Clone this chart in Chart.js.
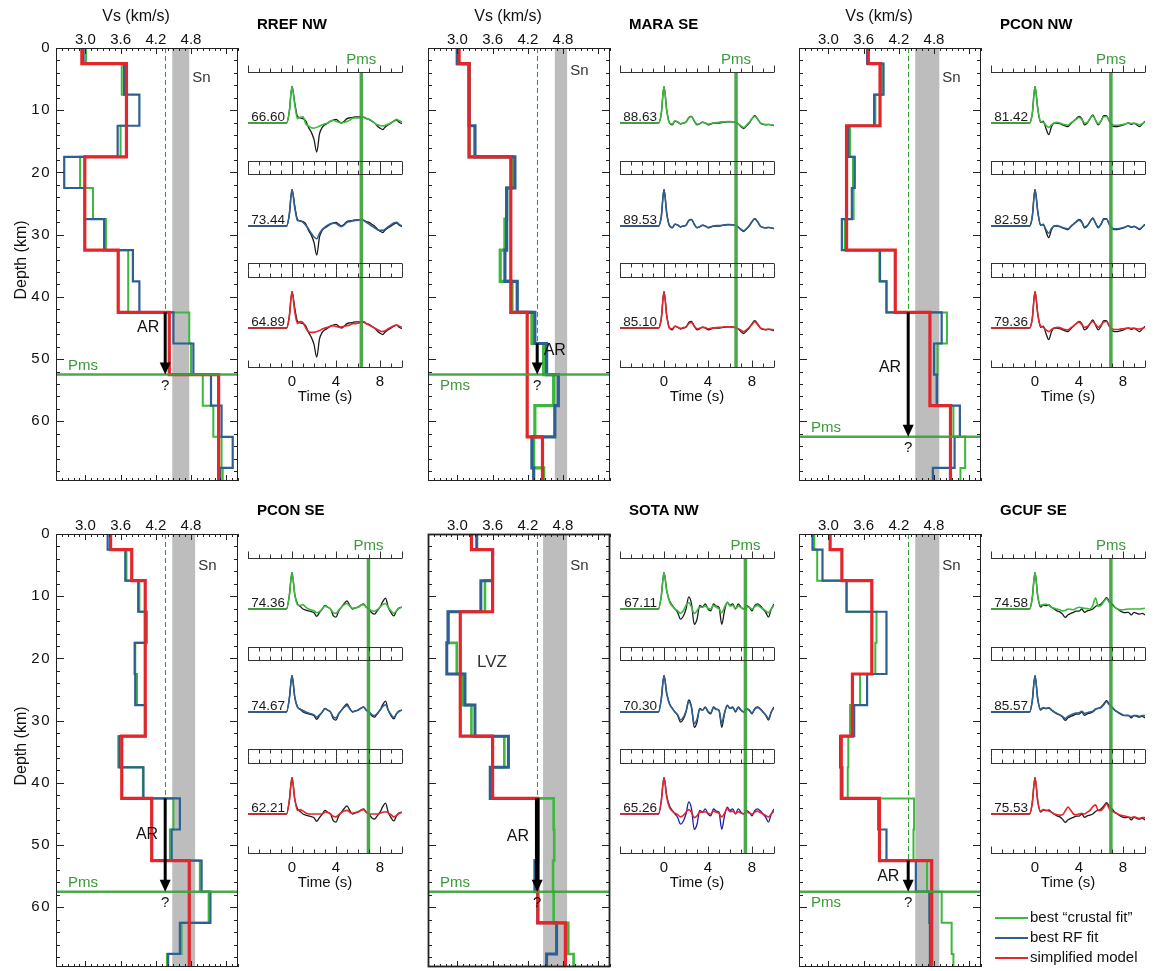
<!DOCTYPE html>
<html>
<head>
<meta charset="utf-8">
<script src="https://cdn.jsdelivr.net/npm/chart.js@4.4.1/dist/chart.umd.min.js"></script>
<style>
  body { margin: 0; background: #fff; width: 1162px; height: 971px; position: relative; overflow: hidden;
         font-family: "Liberation Sans", Arial, sans-serif; }
  canvas { position: absolute; }
  .leg { position: absolute; left: 995px; font-size: 15px; color: #111; line-height: 20px; white-space: nowrap; }
  .leg span { display: inline-block; width: 33px; vertical-align: middle; margin-right: 2px; }
</style>
</head>
<body>
<script>
/* ====== VELOCITY MODELS + RECEIVER FUNCTIONS ====== */

const STATIONS = ['RREF NW', 'MARA SE', 'PCON NW', 'PCON SE', 'SOTA NW', 'GCUF SE']

// layer tops (km), 5 km layers offset by 2.5 km
const LAYER_TOPS = [0, 2.5, 7.5, 12.5, 17.5, 22.5, 27.5, 32.5, 37.5, 42.5, 47.5, 52.5, 57.5, 62.5, 67.5]
const DEPTH_MAX = 69.6
const VS_MIN = 2.5, VS_MAX = 5.6
const VS_TICKS = [3.0, 3.6, 4.2, 4.8]
const DEPTH_TICKS = [0, 10, 20, 30, 40, 50, 60]
const TIME_TICKS = [0, 4, 8]

// Vs (km/s) per layer: best crustal fit / best RF fit / simplified model
const rrefCrust  = [3.01, 3.62, 3.70, 3.60, 2.91, 3.13, 3.35, 3.73, 3.73, 4.77, 4.80, 5.00, 5.18, 5.32, 5.34]
const rrefRF     = [2.97, 3.66, 3.92, 3.55, 2.64, 2.99, 3.32, 3.81, 3.92, 4.50, 4.84, 5.14, 5.32, 5.51, 5.30]
const rrefSimple = [2.94, 3.70, 3.70, 3.70, 2.99, 2.99, 2.99, 3.56, 3.56, 4.43, 4.43, 5.27, 5.27, 5.27, 5.27]

const maraCrust  = [3.00, 3.20, 3.20, 3.20, 3.93, 3.84, 3.81, 3.73, 3.93, 4.27, 4.47, 4.64, 4.32, 4.30, 4.47]
const maraRF     = [3.00, 3.20, 3.20, 3.30, 3.98, 3.84, 3.84, 3.81, 4.02, 4.32, 4.52, 4.72, 4.66, 4.27, 4.30]
const maraSimple = [3.03, 3.20, 3.20, 3.20, 3.91, 3.91, 3.91, 3.91, 3.91, 4.19, 4.19, 4.19, 4.19, 4.45, 4.45]

const pconNwCrust  = [3.68, 3.91, 3.80, 3.37, 3.42, 3.43, 3.28, 3.87, 3.99, 5.02, 4.86, 4.84, 5.13, 5.33, 5.25]
const pconNwRF     = [3.66, 3.94, 3.78, 3.34, 3.45, 3.40, 3.23, 3.88, 3.99, 4.93, 4.80, 4.85, 5.24, 5.15, 4.78]
const pconNwSimple = [3.68, 3.88, 3.88, 3.31, 3.31, 3.31, 3.31, 4.14, 4.14, 4.73, 4.73, 4.73, 5.08, 5.08, 5.08]

const pconSeCrust  = [3.43, 3.70, 3.92, 4.05, 3.85, 3.88, 4.02, 3.56, 3.98, 4.50, 4.44, 4.95, 5.10, 4.64, 4.39]
const pconSeRF     = [3.38, 3.68, 3.90, 4.02, 3.84, 3.85, 4.02, 3.58, 3.99, 4.61, 4.47, 4.98, 5.13, 4.61, 4.41]
const pconSeSimple = [3.43, 3.79, 4.02, 4.02, 4.02, 4.02, 4.02, 3.62, 3.62, 4.13, 4.13, 4.77, 4.77, 4.77, 4.77]

const sotaCrust  = [3.24, 3.60, 3.47, 2.85, 2.99, 3.10, 3.24, 3.80, 3.59, 4.64, 4.65, 4.63, 4.64, 4.89, 4.98]
const sotaRF     = [3.33, 3.60, 3.40, 2.84, 2.82, 3.13, 3.30, 3.87, 3.56, 4.37, 4.37, 4.32, 4.37, 4.69, 4.52]
const sotaSimple = [3.24, 3.60, 3.60, 3.05, 3.05, 3.05, 3.05, 3.60, 3.60, 4.37, 4.37, 4.37, 4.37, 4.84, 4.84]

const gcufCrust  = [2.76, 2.81, 3.31, 3.82, 3.80, 3.54, 3.37, 3.34, 3.33, 4.46, 4.45, 4.68, 4.93, 5.10, 5.13]
const gcufRF     = [2.73, 2.90, 3.31, 3.99, 3.99, 3.66, 3.44, 3.20, 3.24, 3.85, 3.99, 4.49, 4.72, 4.73, 4.73]
const gcufSimple = [3.03, 3.23, 3.74, 3.74, 3.74, 3.41, 3.41, 3.22, 3.22, 3.87, 3.87, 4.76, 4.76, 4.76, 4.76]

const PMS_DEPTH = [52.5, 52.5, 62.5, 57.5, 57.5, 57.5]
const AR_TOP    = [42.5, 47.5, 42.5, 42.5, 42.5, 52.5]
const AR_VS     = 4.36
const SN_BAND   = [[4.48, 4.77], [4.66, 4.87], [4.48, 4.89], [4.48, 4.87], [4.46, 4.87], [4.48, 4.89]]

// receiver functions (s) and amplitudes (normalised to direct P)
const TIME = [-4, -0.5, -0.25, 0, 0.25, 0.5, 0.75, 1, 1.25, 1.5, 1.75, 2, 2.25, 2.5, 2.75, 3, 3.25, 3.5, 3.75,
  4, 4.25, 4.5, 4.75, 5, 5.25, 5.5, 5.75, 6, 6.25, 6.5, 6.75, 7, 7.25, 7.5, 7.75, 8, 8.25, 8.5, 8.75, 9, 9.25, 9.5, 9.75, 10]

const rrefObs = [0, 0, 0.3,
  1.0, 0.55, 0.18, 0.14, 0.12, 0.06, -0.12, -0.25, -0.45, -0.8, -0.3, -0.12, -0.05, 0.0, 0.05, 0.08,
  0.1, 0.05, 0.0, 0.05, 0.12, 0.14, 0.15, 0.17, 0.17, 0.17, 0.16, 0.12, 0.1, 0.05, 0.0, -0.08,
  -0.14, -0.18, -0.1, -0.05, 0.0, 0.05, 0.08, 0.02, -0.02]
const rrefSyn1 = [0, 0, 0.3,
  1.0, 0.5, 0.12, 0.16, 0.17, -0.02, -0.08, -0.13, -0.14, -0.12, -0.08, -0.05, -0.02, 0.0, 0.05, 0.07,
  0.05, 0.02, 0.0, 0.02, 0.04, 0.08, 0.13, 0.14, 0.14, 0.15, 0.16, 0.13, 0.1, 0.06, 0.0, -0.05,
  -0.07, -0.08, -0.06, -0.03, 0.0, 0.05, 0.1, 0.06, 0.03]
const rrefSyn2 = [0, 0, 0.3,
  1.0, 0.5, 0.15, 0.14, 0.1, 0.02, -0.08, -0.2, -0.3, -0.35, -0.2, -0.1, -0.03, 0.02, 0.06, 0.08,
  0.07, 0.02, -0.02, 0.03, 0.1, 0.12, 0.14, 0.15, 0.16, 0.16, 0.15, 0.1, 0.05, 0.0, -0.05, -0.1,
  -0.12, -0.12, -0.08, -0.02, 0.03, 0.08, 0.1, 0.04, 0.0]
const rrefSyn3 = [0, 0, 0.3,
  1.0, 0.45, 0.12, 0.18, 0.15, 0.0, -0.1, -0.12, -0.12, -0.1, -0.07, -0.03, 0.0, 0.02, 0.05, 0.06,
  0.04, 0.02, 0.03, 0.05, 0.06, 0.08, 0.12, 0.12, 0.13, 0.16, 0.18, 0.12, 0.08, 0.04, 0.0, -0.04,
  -0.08, -0.1, -0.07, -0.02, 0.02, 0.06, 0.08, 0.05, 0.02]

const maraObs = [0, 0, 0.25,
  1.0, 0.35, 0.0, -0.05, 0.05, 0.02, -0.03, 0.0, 0.02, 0.15, 0.18, 0.05, -0.05, -0.02, 0.02, 0.0,
  -0.05, -0.03, 0.0, 0.0, 0.0, 0.01, 0.02, 0.03, 0.03, 0.03, 0.02, -0.03, -0.1, -0.15, -0.08, 0.0,
  0.12, 0.2, 0.12, 0.0, -0.04, -0.05, -0.04, -0.05, -0.07]
const maraSyn1 = [0, 0, 0.25,
  1.0, 0.33, 0.0, -0.03, 0.06, 0.03, -0.02, 0.0, 0.03, 0.14, 0.17, 0.06, -0.03, -0.02, 0.02, 0.01,
  -0.03, -0.02, 0.0, 0.01, 0.02, 0.03, 0.03, 0.04, 0.04, 0.03, 0.02, -0.02, -0.08, -0.12, -0.06, 0.02,
  0.12, 0.18, 0.11, 0.01, -0.03, -0.04, -0.04, -0.05, -0.06]
const maraSyn2 = [0, 0, 0.25,
  1.0, 0.34, 0.01, -0.04, 0.05, 0.03, -0.02, 0.0, 0.02, 0.15, 0.17, 0.05, -0.04, -0.02, 0.02, 0.0,
  -0.04, -0.02, 0.0, 0.01, 0.01, 0.02, 0.03, 0.04, 0.04, 0.03, 0.02, -0.03, -0.09, -0.13, -0.07, 0.01,
  0.12, 0.19, 0.12, 0.0, -0.04, -0.05, -0.04, -0.05, -0.07]
const maraSyn3 = [0, 0, 0.25,
  1.0, 0.32, 0.0, -0.02, 0.05, 0.02, -0.01, 0.01, 0.03, 0.12, 0.15, 0.05, -0.02, -0.01, 0.02, 0.01,
  -0.02, -0.01, 0.0, 0.01, 0.02, 0.02, 0.03, 0.03, 0.03, 0.02, 0.01, -0.02, -0.06, -0.1, -0.05, 0.02,
  0.1, 0.17, 0.1, 0.01, -0.03, -0.04, -0.03, -0.04, -0.05]

const pconNwObs = [0, 0, 0.25,
  1.0, 0.4, 0.02, 0.05, -0.15, -0.32, -0.1, 0.0, 0.0, -0.02, -0.05, -0.08, -0.1, -0.02, 0.05, 0.12,
  0.18, 0.12, -0.05, 0.0, 0.12, 0.22, 0.08, -0.05, 0.05, 0.2, 0.2, 0.05, -0.07, -0.1, -0.1, -0.08,
  -0.06, -0.02, 0.0, -0.04, -0.01, -0.05, -0.1, -0.03, 0.05]
const pconNwSyn1 = [0, 0, 0.25,
  1.0, 0.38, 0.05, 0.02, -0.06, -0.12, -0.05, 0.0, 0.02, 0.0, -0.03, -0.05, -0.06, 0.0, 0.05, 0.1,
  0.15, 0.1, 0.0, 0.02, 0.12, 0.2, 0.08, -0.02, 0.06, 0.17, 0.18, 0.06, -0.04, -0.06, -0.06, -0.05,
  -0.04, -0.02, 0.0, -0.02, 0.0, -0.02, -0.05, -0.02, 0.03]
const pconNwSyn2 = [0, 0, 0.25,
  1.0, 0.4, 0.04, 0.03, -0.1, -0.2, -0.07, 0.0, 0.01, -0.01, -0.04, -0.06, -0.08, -0.01, 0.05, 0.11,
  0.16, 0.1, -0.02, 0.01, 0.12, 0.21, 0.08, -0.03, 0.05, 0.18, 0.19, 0.05, -0.05, -0.08, -0.08, -0.06,
  -0.05, -0.02, 0.0, -0.03, -0.01, -0.04, -0.08, -0.03, 0.04]
const pconNwSyn3 = [0, 0, 0.25,
  1.0, 0.38, 0.06, 0.02, -0.05, -0.1, -0.04, 0.0, 0.02, 0.01, -0.02, -0.04, -0.05, 0.0, 0.06, 0.12,
  0.16, 0.1, 0.02, 0.04, 0.12, 0.18, 0.1, 0.02, 0.08, 0.16, 0.18, 0.06, -0.02, -0.04, -0.04, -0.03,
  -0.02, -0.01, 0.0, -0.01, 0.0, -0.02, -0.03, -0.01, 0.02]

const pconSeObs = [0, 0, 0.35,
  1.0, 0.4, 0.14, 0.07, 0.0, -0.03, -0.05, -0.07, -0.1, -0.2, -0.1, 0.0, 0.1, 0.05, 0.0, -0.18,
  -0.22, -0.05, 0.05, 0.15, 0.22, 0.1, 0.0, 0.03, 0.05, 0.1, 0.14, 0.05, 0.0, -0.1, -0.14, -0.05,
  0.05, 0.2, 0.3, 0.05, -0.1, -0.19, -0.05, 0.03, 0.05]
const pconSeSyn1 = [0, 0, 0.35,
  1.0, 0.4, 0.12, 0.1, 0.12, 0.05, 0.0, -0.03, -0.05, -0.1, -0.07, 0.0, 0.08, 0.05, 0.0, -0.1,
  -0.12, -0.03, 0.05, 0.12, 0.15, 0.08, 0.02, 0.03, 0.05, 0.1, 0.12, 0.05, 0.0, -0.05, -0.06, -0.02,
  0.05, 0.12, 0.15, 0.05, -0.05, -0.12, -0.05, 0.02, 0.05]
const pconSeSyn2 = [0, 0, 0.35,
  1.0, 0.42, 0.13, 0.08, 0.04, 0.0, -0.03, -0.05, -0.08, -0.14, -0.08, 0.0, 0.09, 0.05, 0.0, -0.13,
  -0.16, -0.04, 0.05, 0.13, 0.18, 0.09, 0.01, 0.03, 0.05, 0.1, 0.13, 0.05, 0.0, -0.07, -0.1, -0.04,
  0.05, 0.15, 0.2, 0.05, -0.07, -0.15, -0.05, 0.02, 0.05]
const pconSeSyn3 = [0, 0, 0.35,
  1.0, 0.42, 0.1, 0.12, 0.08, 0.03, 0.0, 0.0, 0.0, 0.0, 0.0, 0.0, 0.05, 0.04, 0.0, -0.06,
  -0.08, -0.02, 0.04, 0.08, 0.1, 0.05, 0.02, 0.04, 0.06, 0.1, 0.12, 0.05, 0.0, 0.0, 0.0, 0.0,
  0.02, 0.05, 0.06, 0.03, -0.02, -0.08, -0.04, 0.02, 0.04]

const sotaObs = [0, 0, 0.35,
  1.0, 0.5, 0.23, 0.1, 0.0, -0.1, -0.28, -0.2, 0.0, 0.33, 0.14, -0.42, -0.28, 0.1, 0.05, 0.14,
  0.0, -0.05, 0.14, 0.08, 0.05, -0.42, -0.05, 0.19, 0.1, 0.14, 0.0, 0.14, 0.05, 0.0, 0.09, 0.05,
  -0.05, 0.09, 0.14, 0.09, 0.0, -0.09, -0.22, 0.0, 0.14]
const sotaSyn1 = [0, 0, 0.35,
  1.0, 0.5, 0.2, 0.08, 0.0, -0.05, -0.12, -0.05, 0.1, 0.18, 0.05, -0.12, -0.05, 0.05, 0.05, 0.08,
  0.02, 0.0, 0.1, 0.05, 0.0, -0.1, 0.05, 0.18, 0.08, 0.1, 0.02, 0.08, 0.04, 0.0, 0.06, 0.04,
  0.0, 0.06, 0.1, 0.05, 0.0, -0.05, -0.1, 0.0, 0.1]
const sotaSyn2 = [0, 0, 0.35,
  1.0, 0.5, 0.22, 0.1, 0.0, -0.08, -0.22, -0.15, 0.02, 0.28, 0.12, -0.32, -0.2, 0.08, 0.05, 0.12,
  0.02, -0.03, 0.12, 0.07, 0.04, -0.3, -0.02, 0.17, 0.1, 0.12, 0.02, 0.12, 0.05, 0.0, 0.08, 0.05,
  -0.03, 0.08, 0.12, 0.08, 0.0, -0.08, -0.18, 0.0, 0.12]
const sotaSyn3 = [0, 0, 0.35,
  1.0, 0.45, 0.18, 0.08, 0.02, -0.02, -0.08, -0.04, 0.05, 0.12, 0.05, -0.1, -0.05, 0.05, 0.05, 0.06,
  0.02, 0.0, 0.08, 0.05, 0.02, -0.08, 0.02, 0.15, 0.06, 0.08, 0.02, 0.06, 0.03, 0.0, 0.05, 0.03,
  0.0, 0.05, 0.08, 0.04, 0.0, -0.04, -0.08, 0.0, 0.08]

const gcufObs = [0, 0, 0.3,
  1.0, 0.35, 0.05, 0.11, 0.09, 0.11, 0.05, 0.0, -0.05, -0.08, -0.14, -0.23, -0.16, -0.12, -0.09, -0.06,
  -0.06, 0.0, -0.09, -0.05, -0.03, 0.0, 0.07, 0.1, 0.14, 0.22, 0.31, 0.22, 0.14, 0.05, 0.0, -0.05,
  -0.09, -0.1, -0.09, -0.16, -0.09, -0.12, -0.14, -0.12, -0.16]
const gcufSyn1 = [0, 0, 0.3,
  1.0, 0.35, 0.1, 0.12, 0.13, 0.1, 0.05, 0.02, 0.0, -0.02, -0.05, -0.04, 0.0, -0.01, -0.02, 0.02,
  0.05, 0.03, 0.02, 0.01, 0.0, 0.1, 0.3, 0.08, 0.1, 0.2, 0.28, 0.18, 0.1, 0.05, 0.0, -0.02,
  -0.02, -0.01, 0.0, 0.0, 0.0, 0.0, 0.0, 0.01, 0.02]
const gcufSyn2 = [0, 0, 0.3,
  1.0, 0.35, 0.08, 0.12, 0.1, 0.12, 0.06, 0.0, -0.04, -0.08, -0.12, -0.18, -0.12, -0.08, -0.05, -0.03,
  -0.02, 0.02, -0.04, -0.02, 0.0, 0.02, 0.08, 0.1, 0.12, 0.2, 0.28, 0.2, 0.12, 0.05, 0.0, -0.04,
  -0.08, -0.09, -0.1, -0.12, -0.1, -0.1, -0.12, -0.1, -0.1]
const gcufSyn3 = [0, 0, 0.3,
  1.0, 0.35, 0.08, 0.12, 0.1, 0.08, 0.05, 0.0, -0.02, -0.03, -0.02, 0.08, 0.19, 0.1, 0.0, -0.02,
  0.0, 0.02, 0.0, 0.05, 0.1, 0.2, 0.25, 0.1, 0.1, 0.18, 0.28, 0.15, 0.08, 0.04, 0.0, -0.03,
  -0.05, -0.06, -0.08, -0.1, -0.08, -0.1, -0.12, -0.1, -0.1]

const PMS_TIME = [6.3, 6.55, 6.9, 6.95, 7.4, 6.9]
const FIT = [
  ['66.60', '73.44', '64.89'], ['88.63', '89.53', '85.10'], ['81.42', '82.59', '79.36'],
  ['74.36', '74.67', '62.21'], ['67.11', '70.30', '65.26'], ['74.58', '85.57', '75.53']
]

const VEL_MODELS = [
  [rrefCrust, rrefRF, rrefSimple], [maraCrust, maraRF, maraSimple], [pconNwCrust, pconNwRF, pconNwSimple],
  [pconSeCrust, pconSeRF, pconSeSimple], [sotaCrust, sotaRF, sotaSimple], [gcufCrust, gcufRF, gcufSimple]
]
const OBS = [rrefObs, maraObs, pconNwObs, pconSeObs, sotaObs, gcufObs]
const SYN = [
  [rrefSyn1, rrefSyn2, rrefSyn3], [maraSyn1, maraSyn2, maraSyn3], [pconNwSyn1, pconNwSyn2, pconNwSyn3],
  [pconSeSyn1, pconSeSyn2, pconSeSyn3], [sotaSyn1, sotaSyn2, sotaSyn3], [gcufSyn1, gcufSyn2, gcufSyn3]
]

/* ====== LAYOUT / STYLE ====== */
const GREEN = '#3cb93c', BLUE = '#2d5f92', RED = '#e3262b', DARK_BLUE = '#1c1caa'
const PMS_GREEN = 'rgba(62,160,62,0.92)'
const FONT = '"Liberation Sans", Arial, sans-serif'
const COL_X = [0, 372, 743]
const ROW_Y = [0, 486]
const VEL_BOX = { left: 56, top: 48, w: 182, h: 433 }
const WAVE_BOX = { left: 248, top: 72, w: 154, h: 295 }
const PANEL_TOP = [0, 102, 205], PANEL_BOT = [89, 191, 295], PANEL_BASE = [51, 154, 256]
const AMP_PX = 36.5
// annotation placement in data units [vs, depth]
const AR_TEXT = [[4.07, 45], [4.66, 48.6], [4.05, 51.3], [4.05, 48.3], [4.03, 48.6], [4.02, 55]]
const PMS_LABEL_BELOW = [false, true, false, false, false, true]
const SN_Y = [30, 23, 30, 32, 32, 32]
// model line widths (crust, RF) - MARA and SOTA show bundles of near-identical fits
const FIT_WIDTH = [[2, 2.2], [3.2, 3.2], [2, 2.2], [2, 2.2], [2.6, 3], [2, 2.2]]

function makeCanvas(left, top, w, h) {
  const c = document.createElement('canvas')
  c.width = w; c.height = h
  c.style.left = left + 'px'; c.style.top = top + 'px'
  c.style.width = w + 'px'; c.style.height = h + 'px'
  document.body.appendChild(c)
  return c
}

function seg(ctx, x1, y1, x2, y2) { ctx.beginPath(); ctx.moveTo(x1, y1); ctx.lineTo(x2, y2); ctx.stroke() }

function stepSet(vals, color, width) {
  const pts = LAYER_TOPS.map((d, i) => ({ x: vals[i], y: d }))
  pts.push({ x: vals[vals.length - 1], y: DEPTH_MAX })
  return { data: pts, borderColor: color, borderWidth: width, stepped: 'after', pointRadius: 0, fill: false }
}

function velDeco(si, col, row) {
  return {
    id: 'velDeco',
    beforeDatasetsDraw(chart) {
      const { ctx, chartArea: a, scales: { x, y } } = chart
      const b0 = x.getPixelForValue(SN_BAND[si][0]), b1 = x.getPixelForValue(SN_BAND[si][1])
      ctx.save()
      ctx.fillStyle = '#bdbdbd'
      ctx.fillRect(b0, a.top, b1 - b0, a.height)
      ctx.strokeStyle = '#2f9f2f'; ctx.lineWidth = 1.1; ctx.setLineDash([5, 3])
      const xd = Math.round(x.getPixelForValue(AR_VS)) + 0.5
      seg(ctx, xd, a.top, xd, y.getPixelForValue(AR_TOP[si]))
      ctx.restore()
    },
    afterDatasetsDraw(chart) {
      const { ctx, chartArea: a, scales: { x, y } } = chart
      const yP = y.getPixelForValue(PMS_DEPTH[si])
      const xa = x.getPixelForValue(AR_VS)
      ctx.save()
      // Pms depth line
      ctx.strokeStyle = PMS_GREEN; ctx.lineWidth = 2.5
      seg(ctx, a.left, yP, a.right, yP)
      // AR arrow
      ctx.strokeStyle = '#000'; ctx.lineWidth = si === 4 ? 4.5 : 3
      seg(ctx, xa, y.getPixelForValue(AR_TOP[si]), xa, yP - 9)
      ctx.fillStyle = '#000'
      ctx.beginPath(); ctx.moveTo(xa - 5.5, yP - 12); ctx.lineTo(xa + 5.5, yP - 12); ctx.lineTo(xa, yP); ctx.closePath(); ctx.fill()
      // text notes
      ctx.fillStyle = '#111'; ctx.textAlign = 'center'; ctx.textBaseline = 'middle'
      ctx.font = '16px ' + FONT
      ctx.fillText('AR', x.getPixelForValue(AR_TEXT[si][0]), y.getPixelForValue(AR_TEXT[si][1]))
      ctx.font = '15px ' + FONT
      ctx.fillText('?', xa, yP + 11)
      if (si === 4) { ctx.font = '17px ' + FONT; ctx.fillStyle = '#333'; ctx.fillText('LVZ', x.getPixelForValue(3.59), y.getPixelForValue(20.7)) }
      ctx.fillStyle = '#333'; ctx.textAlign = 'left'; ctx.font = '15px ' + FONT
      ctx.fillText('Sn', x.getPixelForValue(SN_BAND[si][1]) + 3, a.top + SN_Y[si])
      ctx.fillStyle = '#3a9a3a'
      if (PMS_LABEL_BELOW[si]) { ctx.textBaseline = 'top'; ctx.fillText('Pms', a.left + 12, yP + 4) }
      else { ctx.textBaseline = 'bottom'; ctx.fillText('Pms', a.left + 12, yP - 1) }
      // frame + ticks
      ctx.strokeStyle = '#222'; ctx.lineWidth = si === 4 ? 1.8 : 1
      ctx.strokeRect(a.left + 0.5, a.top + 0.5, a.width - 1, a.height - 1)
      ctx.lineWidth = 1
      for (let k = 25; k <= 56; k++) {
        const px = Math.round(x.getPixelForValue(k / 10)) + 0.5
        const len = (k - 24) % 6 === 0 ? 6 : 3
        seg(ctx, px, a.top, px, a.top + len); seg(ctx, px, a.bottom, px, a.bottom - len)
      }
      for (let d = 2; d < DEPTH_MAX; d += 2) {
        const py = Math.round(y.getPixelForValue(d)) + 0.5
        const len = d % 10 === 0 ? 8 : 4
        seg(ctx, a.left, py, a.left + len, py); seg(ctx, a.right, py, a.right - len, py)
      }
      // tick labels
      ctx.fillStyle = '#111'; ctx.font = '15px ' + FONT; ctx.textAlign = 'center'; ctx.textBaseline = 'alphabetic'
      VS_TICKS.forEach(v => ctx.fillText(v.toFixed(1), x.getPixelForValue(v), a.top - 4))
      if (row === 0) { ctx.font = '16px ' + FONT; ctx.fillText('Vs (km/s)', a.left + 80, a.top - 27) }
      if (col === 0) {
        ctx.font = '15px ' + FONT; ctx.textAlign = 'right'; ctx.textBaseline = 'middle'
        if ('letterSpacing' in ctx) ctx.letterSpacing = '1.5px'
        DEPTH_TICKS.forEach(d => ctx.fillText(String(d), a.left - 5, y.getPixelForValue(d)))
        if ('letterSpacing' in ctx) ctx.letterSpacing = '0px'
        ctx.save()
        ctx.translate(22, a.top + 212); ctx.rotate(-Math.PI / 2)
        ctx.textAlign = 'center'; ctx.font = '16px ' + FONT
        ctx.fillText('Depth (km)', 0, 0)
        ctx.restore()
      }
      ctx.restore()
    }
  }
}

function drawVelocity(si) {
  const col = si % 3, row = Math.floor(si / 3)
  const pad = { left: 56, top: 48, right: 6, bottom: 4 }
  const cv = makeCanvas(VEL_BOX.left + COL_X[col] - pad.left, VEL_BOX.top + ROW_Y[row] - pad.top,
    pad.left + VEL_BOX.w + pad.right, pad.top + VEL_BOX.h + pad.bottom)
  const [crust, rf, simple] = VEL_MODELS[si]
  const [wc, wr] = FIT_WIDTH[si]
  // first dataset is drawn on top: red, then blue, then green underneath
  new Chart(cv, {
    type: 'line',
    data: { datasets: [stepSet(simple, RED, 3.2), stepSet(rf, BLUE, wr), stepSet(crust, GREEN, wc)] },
    options: {
      indexAxis: 'y', responsive: false, animation: false, events: [],
      layout: { padding: pad },
      plugins: { legend: { display: false }, tooltip: { enabled: false } },
      scales: {
        x: { type: 'linear', min: VS_MIN, max: VS_MAX, display: false },
        y: { type: 'linear', min: 0, max: DEPTH_MAX, reverse: true, display: false }
      }
    },
    plugins: [velDeco(si, col, row)]
  })
}

function trace(vals, color, width, axisId) {
  return {
    data: TIME.map((t, i) => ({ x: t, y: vals[i] })), yAxisID: axisId,
    borderColor: color, borderWidth: width, pointRadius: 0, fill: false, cubicInterpolationMode: 'monotone'
  }
}

function waveDeco(si) {
  return {
    id: 'waveDeco',
    afterDatasetsDraw(chart) {
      const { ctx, chartArea: a, scales } = chart
      const x = scales.x
      const xs = x.getPixelForValue(-4), xe = x.getPixelForValue(10)
      const hAxis = (yy, dir) => {
        yy = Math.round(yy) + 0.5
        seg(ctx, xs, yy, xe, yy)
        for (let t = -4; t <= 10; t++) {
          const px = Math.round(x.getPixelForValue(t)) + 0.5
          const len = (t % 4 === 0 || t === 10) ? 7 : 4
          seg(ctx, px, yy, px, yy + dir * len)
        }
      }
      ctx.save()
      // Pms time line
      const xp = x.getPixelForValue(PMS_TIME[si])
      ctx.strokeStyle = PMS_GREEN; ctx.lineWidth = 3.5
      seg(ctx, xp, a.top + PANEL_TOP[0], xp, a.top + PANEL_BOT[2])
      ctx.strokeStyle = '#333'; ctx.lineWidth = 1
      for (let k = 0; k < 3; k++) {
        hAxis(a.top + PANEL_TOP[k], -1)
        hAxis(a.top + PANEL_BOT[k], k === 2 ? -1 : 1)
      }
      // fit values
      ctx.fillStyle = '#1a1a1a'; ctx.font = '13.5px ' + FONT; ctx.textAlign = 'right'; ctx.textBaseline = 'alphabetic'
      for (let k = 0; k < 3; k++) {
        ctx.fillText(FIT[si][k], x.getPixelForValue(0) - 7, scales['y' + k].getPixelForValue(0) - 2)
      }
      // axis labels
      const yb = a.top + PANEL_BOT[2]
      ctx.textAlign = 'center'; ctx.font = '15px ' + FONT; ctx.fillStyle = '#111'
      TIME_TICKS.forEach(t => ctx.fillText(String(t), x.getPixelForValue(t), yb + 19))
      ctx.fillText('Time (s)', x.getPixelForValue(3), yb + 34)
      ctx.fillStyle = '#3a9a3a'
      ctx.fillText('Pms', xp, a.top - 8)
      ctx.fillStyle = '#000'; ctx.textAlign = 'left'; ctx.font = 'bold 15px ' + FONT
      ctx.fillText(STATIONS[si], a.left + 9, a.top - 43)
      ctx.restore()
    }
  }
}

function drawWaves(si) {
  const col = si % 3, row = Math.floor(si / 3)
  const pad = { left: 8, top: 64, right: 12, bottom: 44 }
  const cv = makeCanvas(WAVE_BOX.left + COL_X[col] - pad.left, WAVE_BOX.top + ROW_Y[row] - pad.top,
    pad.left + WAVE_BOX.w + pad.right, pad.top + WAVE_BOX.h + pad.bottom)
  const fitColors = [GREEN, BLUE, RED]
  const datasets = []
  const scales = { x: { type: 'linear', min: -4, max: 10, display: false } }
  for (let k = 0; k < 3; k++) {
    const id = 'y' + k
    scales[id] = { type: 'linear', position: 'left', display: false,
      min: -(WAVE_BOX.h - PANEL_BASE[k]) / AMP_PX, max: PANEL_BASE[k] / AMP_PX }
    // synthetic first so it sits on top of the observed trace
    datasets.push(trace(SYN[si][k], fitColors[k], 1.6, id))
    datasets.push(trace(OBS[si], si === 4 && k === 2 ? DARK_BLUE : '#1b1b1b', 1.3, id))
  }
  new Chart(cv, {
    type: 'line',
    data: { datasets },
    options: {
      responsive: false, animation: false, events: [],
      layout: { padding: pad },
      plugins: { legend: { display: false }, tooltip: { enabled: false } },
      scales
    },
    plugins: [waveDeco(si)]
  })
}

for (let si = 0; si < STATIONS.length; si++) { drawVelocity(si); drawWaves(si) }

// legend
const LEGEND = [['best \u201ccrustal fit\u201d', GREEN, 2], ['best RF fit', BLUE, 1.5], ['simplified model', RED, 1.5]]
LEGEND.forEach(([label, color, w], i) => {
  const d = document.createElement('div')
  d.className = 'leg'
  d.style.top = (907 + i * 20) + 'px'
  d.innerHTML = `<span style="height:${w}px;background:${color}"></span>${label}`
  document.body.appendChild(d)
})
</script>
</body>
</html>
